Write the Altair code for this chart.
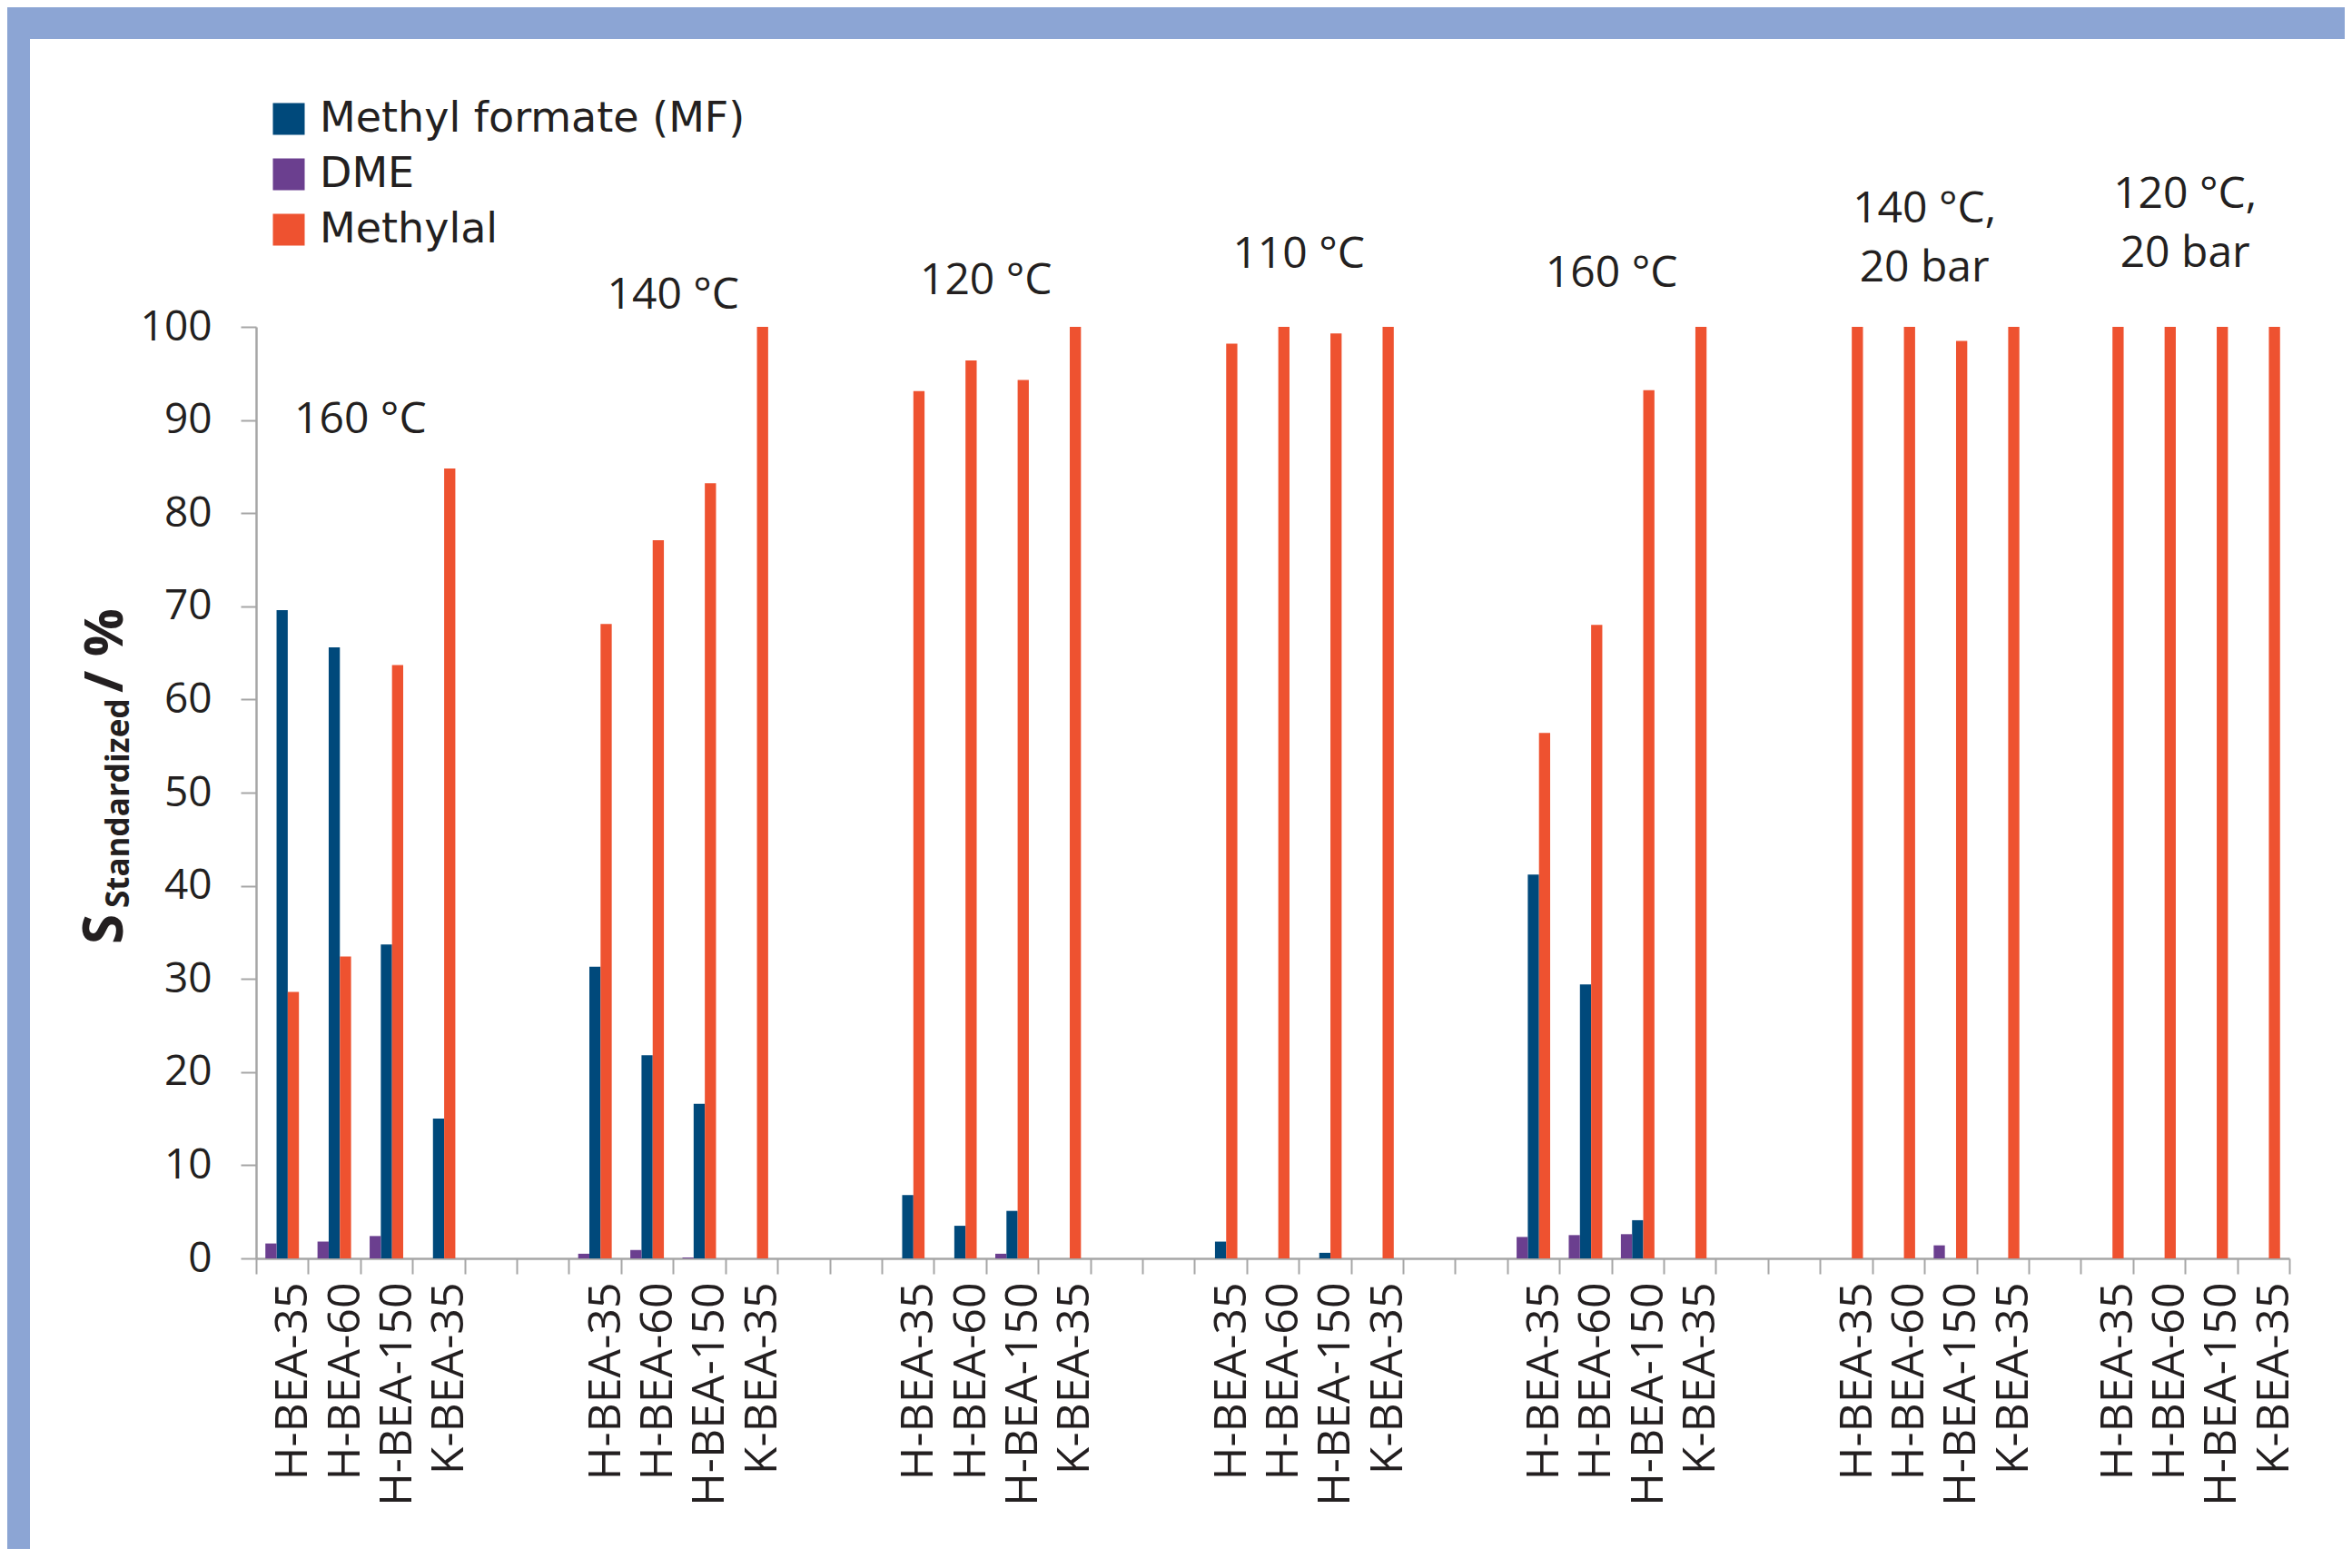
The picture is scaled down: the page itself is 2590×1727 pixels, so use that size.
import altair as alt
import pandas as pd

# ---------------- data ----------------
catalysts = ["H-BEA-35", "H-BEA-60", "H-BEA-150", "K-BEA-35"]
conditions = ["160 °C", "140 °C", "120 °C", "110 °C", "160 °C",
              "140 °C,\n20 bar", "120 °C,\n20 bar"]
gap_slots = [2, 2, 2, 2, 2, 1]          # empty category slots between groups
series = ["Methyl formate (MF)", "DME", "Methylal"]
bar_order = ["DME", "Methyl formate (MF)", "Methylal"]

mf = [
    [69.6, 65.6, 33.7, 15.0],
    [31.3, 21.8, 16.6, 0.0],
    [6.8, 3.5, 5.1, 0.0],
    [1.8, 0.0, 0.6, 0.0],
    [41.2, 29.4, 4.1, 0.0],
    [0.0, 0.0, 0.0, 0.0],
    [0.0, 0.0, 0.0, 0.0],
]
dme = [
    [1.6, 1.8, 2.4, 0.0],
    [0.5, 0.9, 0.1, 0.0],
    [0.0, 0.0, 0.5, 0.0],
    [0.0, 0.0, 0.0, 0.0],
    [2.3, 2.5, 2.6, 0.0],
    [0.0, 0.0, 1.4, 0.0],
    [0.0, 0.0, 0.0, 0.0],
]
methylal = [
    [28.6, 32.4, 63.7, 84.8],
    [68.1, 77.1, 83.2, 100.0],
    [93.1, 96.4, 94.3, 100.0],
    [98.2, 100.0, 99.3, 100.0],
    [56.4, 68.0, 93.2, 100.0],
    [100.0, 100.0, 98.5, 100.0],
    [100.0, 100.0, 100.0, 100.0],
]
# level (in % units) of the first line of each condition label
condition_level = [90.0, 103.3, 104.9, 107.7, 105.7, 112.6, 114.1]

y_ticks = list(range(0, 101, 10))

# ---------------- tables ----------------
keys = []
for gi in range(len(conditions)):
    for c in catalysts:
        keys.append(f"{gi}|{c}")
    if gi < len(gap_slots):
        for k in range(gap_slots[gi]):
            keys.append(f"gap{gi}{k}")

values_by_series = {"Methyl formate (MF)": mf, "DME": dme, "Methylal": methylal}
rows = []
for gi in range(len(conditions)):
    for ci, c in enumerate(catalysts):
        for s in series:
            v = values_by_series[s][gi][ci]
            if v > 0:
                rows.append({"key": f"{gi}|{c}", "series": s, "value": v})
bars_df = pd.DataFrame(rows)

ann_df = pd.DataFrame({
    "key": [f"{gi}|{catalysts[1]}" for gi in range(len(conditions))],
    "label": conditions,
    "level": condition_level,
})

# ---------------- styling ----------------
FONT = "Open Sans"
LEGEND_FONT = "DejaVu Sans"
TXT = "#231F20"
AX = "#A6A6A6"
colors = ["#00497B", "#6B3F8F", "#EE5230"]
W, H = 2239, 1026
PL, PT, PR, PB = 274, 352, 61, 320

x_scale = alt.Scale(domain=keys, paddingInner=0, paddingOuter=0)
y_scale = alt.Scale(domain=[0, 100], nice=False)

x_axis = alt.Axis(
    title=None,
    labelExpr="indexof(datum.value + '', '|') >= 0 ? split(datum.value + '', '|')[1] : ''",
    labelAngle=-90, tickBand="extent", tickSize=17, tickWidth=2, tickColor=AX,
    domainColor=AX, domainWidth=2.5, labelFontSize=50, labelFont=FONT,
    labelColor=TXT, labelPadding=9, labelOffset=12, labelLimit=600, grid=False,
)
y_axis = alt.Axis(
    title=None, values=y_ticks, grid=False, tickSize=17, tickWidth=2,
    tickColor=AX, domainColor=AX, domainWidth=2.5, labelFontSize=46,
    labelFont=FONT, labelColor=TXT, labelPadding=32,
)

X = alt.X("key:N", scale=x_scale, axis=x_axis, sort=None)
Y = alt.Y("value:Q", scale=y_scale, axis=y_axis)

bars = alt.Chart(bars_df).mark_bar().encode(
    x=X,
    xOffset=alt.XOffset("series:N", sort=bar_order,
                        scale=alt.Scale(domain=bar_order, paddingInner=0, paddingOuter=0.83)),
    y=Y,
    color=alt.Color(
        "series:N",
        scale=alt.Scale(domain=series, range=colors),
        legend=alt.Legend(
            title=None, orient="none", legendX=13, legendY=-252,
            symbolType="square", symbolSize=1225, symbolStrokeWidth=0,
            symbolOpacity=1, labelFontSize=46, labelFont=LEGEND_FONT, labelColor=TXT,
            rowPadding=15, labelOffset=11, padding=0, labelLimit=800,
        ),
    ),
)

annotations = alt.Chart(ann_df).mark_text(
    font=FONT, fontSize=48, color=TXT, lineBreak="\n", lineHeight=65,
    align="center", baseline="middle",
).encode(
    x=alt.X("key:N", scale=x_scale, axis=x_axis, sort=None, bandPosition=1),
    y=alt.Y("level:Q", scale=y_scale, axis=y_axis),
    text="label:N",
)

one = pd.DataFrame({"a": [0]})

title_s = alt.Chart(one).mark_text(
    font=FONT, fontSize=60, fontWeight="bold", color=TXT, angle=270,
    align="left", baseline="alphabetic",
).encode(x=alt.value(-147), y=alt.value(680), text=alt.value("S"))

title_sub = alt.Chart(one).mark_text(
    font=FONT, fontSize=35, fontWeight="bold", color=TXT, angle=270,
    align="left", baseline="alphabetic",
).encode(x=alt.value(-140), y=alt.value(640), text=alt.value("Standardized"))

title_unit = alt.Chart(one).mark_text(
    font=FONT, fontSize=59, fontWeight="bold", color=TXT, angle=270,
    align="left", baseline="alphabetic",
).encode(x=alt.value(-147), y=alt.value(403), text=alt.value("/ %"))

frame_color = "#8CA5D4"
top_band = alt.Chart(one).mark_rect(color=frame_color).encode(
    x=alt.value(-PL), x2=alt.value(W + PR), y=alt.value(-PT), y2=alt.value(-PT + 35)
)
left_band = alt.Chart(one).mark_rect(color=frame_color).encode(
    x=alt.value(-PL), x2=alt.value(-PL + 25), y=alt.value(-PT), y2=alt.value(H + PB)
)

chart = alt.layer(
    top_band, left_band, bars, annotations, title_s, title_sub, title_unit
).properties(
    width=W, height=H,
    padding={"left": PL, "top": PT, "right": PR, "bottom": PB},
    autosize=alt.AutoSizeParams(type="none"),
    background="white",
).configure_view(stroke=None)

chart.save("out.html", embed_options={"renderer": "svg", "actions": False})
